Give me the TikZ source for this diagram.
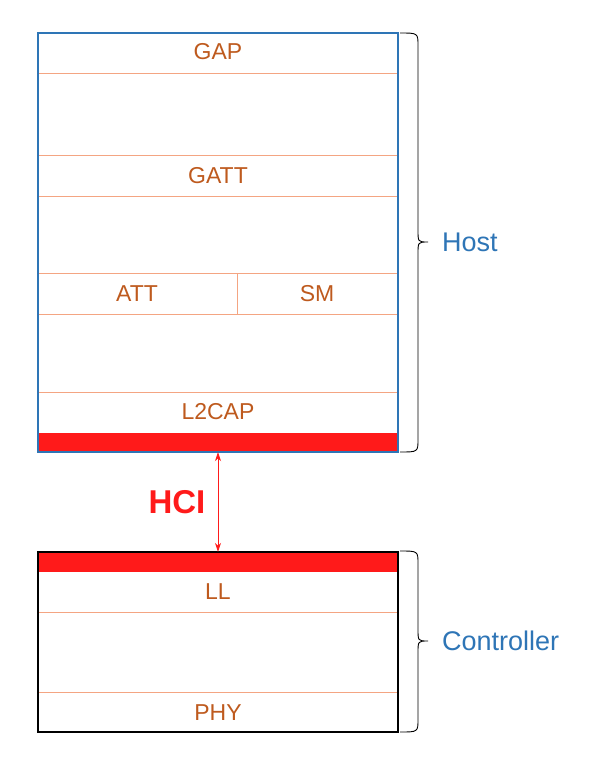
\documentclass[tikz,border=0pt]{standalone}
\usepackage{fontspec}
\setmainfont{Liberation Sans}
\usetikzlibrary{arrows.meta}
\definecolor{lbl}{HTML}{BE5A1E}
\definecolor{sep}{HTML}{F4A582}
\definecolor{hostblue}{HTML}{2E75B6}
\definecolor{hred}{HTML}{FF1A1A}
\tikzset{
  layer/.style={text=lbl, font=\fontsize{23}{27}\selectfont, inner sep=0pt},
  sepline/.style={draw=sep, line width=0.8pt},
  band/.style={fill=hred, draw=none},
  grp/.style={text=hostblue, font=\fontsize{27}{31}\selectfont, anchor=west, inner sep=0pt},
  bracepath/.style={draw=black, line width=0.9pt},
}
\begin{document}
\begin{tikzpicture}[x=1pt,y=-1pt]
\useasboundingbox (0,0) rectangle (593,769);
% Host stack
\node[minimum width=360pt, minimum height=419pt, inner sep=0pt] (host) at (218,242.5) {};
\draw[sepline] (38,73) -- (398,73);
\draw[sepline] (38,155) -- (398,155);
\draw[sepline] (38,196) -- (398,196);
\draw[sepline] (38,273) -- (398,273);
\draw[sepline] (237,273) -- (237,314);
\draw[sepline] (38,314) -- (398,314);
\draw[sepline] (38,392) -- (398,392);
\fill[band] (38,433) rectangle (398,452);
\draw[hostblue, line width=1.6pt] (host.north west) rectangle (host.south east);
\node[layer] (gap) at (218,52) {GAP};
\node[layer] (gatt) at (218,176) {GATT};
\node[layer] (att) at (137,294) {ATT};
\node[layer] (sm) at (317,294) {SM};
\node[layer] (l2cap) at (218,412) {L2CAP};
% Controller stack
\node[minimum width=360pt, minimum height=180pt, inner sep=0pt] (ctrl) at (218,642) {};
\fill[band] (38,552) rectangle (398,572);
\draw[sepline] (38,612) -- (398,612);
\draw[sepline] (38,692) -- (398,692);
\draw[black, line width=1.8pt] (ctrl.north west) rectangle (ctrl.south east);
\node[layer] (ll) at (218,592) {LL};
\node[layer] (phy) at (218,713) {PHY};
% HCI
\draw[hred, line width=0.8pt, {Stealth[length=9pt,width=6pt]}-{Stealth[length=9pt,width=6pt]}] (host.south) -- (ctrl.north);
\node[text=hred, font=\bfseries\fontsize{33}{37}\selectfont, inner sep=0pt] (hci) at (177,502) {HCI};
% Braces
\draw[bracepath] (400,33) .. controls (418,33) .. (418,46) -- (418,230) .. controls (418,242) .. (428,242) .. controls (418,242) .. (418,254) -- (418,439) .. controls (418,452) .. (400,452);
\node[grp] (hostlbl) at (442,242) {Host};
\draw[bracepath] (400,551) .. controls (418,551) .. (418,564) -- (418,629) .. controls (418,641) .. (428,641) .. controls (418,641) .. (418,653) -- (418,719) .. controls (418,732) .. (400,732);
\node[grp] (ctrllbl) at (442,641) {Controller};
\end{tikzpicture}
\end{document}
